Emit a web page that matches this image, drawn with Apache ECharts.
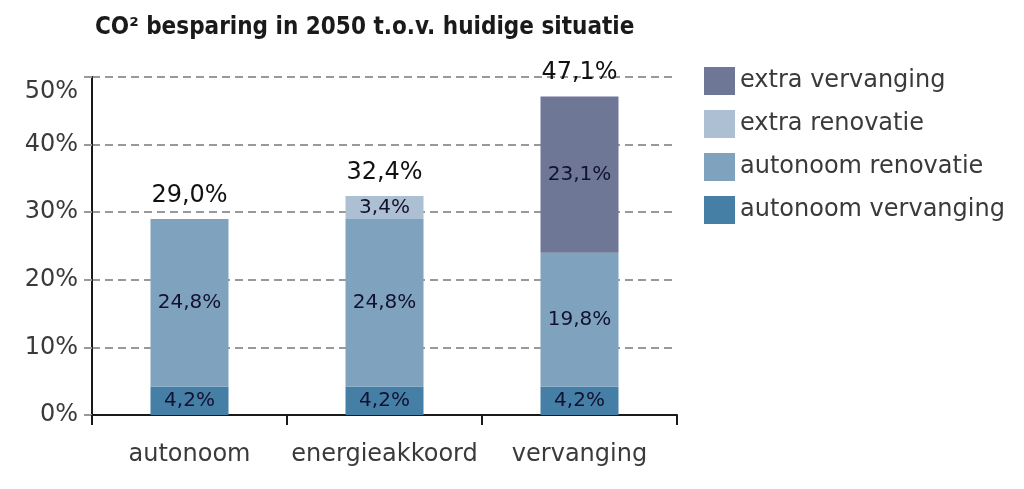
<!DOCTYPE html>
<html>
<head>
<meta charset="utf-8">
<script src="https://cdn.jsdelivr.net/npm/echarts@6/dist/echarts.min.js"></script>
<style>
html,body{margin:0;padding:0;background:#fff;}
#chart{width:1024px;height:489px;}
</style>
</head>
<body>
<div id="chart"></div>
<script>
var categories = ['autonoom', 'energieakkoord', 'vervanging'];
var autonoomVervanging = [4.2, 4.2, 4.2];
var autonoomRenovatie = [24.8, 24.8, 19.8];
var extraRenovatie = ['-', 3.4, '-'];
var extraVervanging = ['-', '-', 23.1];
var totals = [29.0, 32.4, 47.1];
var yTicks = [0, 10, 20, 30, 40, 50];

var FONT = '"DejaVu Sans", sans-serif';
function fmt(v) { return v.toFixed(1).replace('.', ',') + '%'; }

var segLabel = {
  show: true,
  position: 'inside',
  fontFamily: FONT,
  fontSize: 20,
  color: '#121230',
  formatter: function (p) { return fmt(p.value); }
};

var chart = echarts.init(document.getElementById('chart'), null, {renderer: 'canvas'});
chart.setOption({
  animation: false,
  backgroundColor: '#fff',
  title: {
    text: 'CO² besparing in 2050 t.o.v. huidige situatie',
    left: 90,
    top: 11,
    textStyle: {
      fontFamily: '"DejaVu Sans Condensed", "DejaVu Sans", sans-serif',
      fontWeight: 'bold',
      fontSize: 24,
      color: '#1a1a1a'
    }
  },
  legend: {
    orient: 'vertical',
    left: 699,
    top: 62,
    itemWidth: 31,
    itemHeight: 28,
    itemGap: 15,
    icon: 'rect',
    data: ['extra vervanging', 'extra renovatie', 'autonoom renovatie', 'autonoom vervanging'],
    textStyle: { fontFamily: FONT, fontSize: 24, color: '#3a3a3a', padding: [0, 0, 0, 0] }
  },
  grid: { left: 92, right: 347, top: 77, bottom: 74, containLabel: false },
  xAxis: {
    type: 'category',
    data: categories,
    axisLine: { show: true, lineStyle: { color: '#1a1a1a', width: 2 } },
    axisTick: { show: true, interval: 0, length: 10, lineStyle: { color: '#1a1a1a', width: 2 } },
    axisLabel: { interval: 0, fontFamily: FONT, fontSize: 24, color: '#3a3a3a', margin: 28 }
  },
  yAxis: {
    type: 'value',
    min: 0,
    max: 50,
    interval: 10,
    axisLine: { show: true, lineStyle: { color: '#1a1a1a', width: 2 } },
    axisTick: { show: true, length: 8, lineStyle: { color: '#999', width: 2 } },
    splitLine: { show: true, lineStyle: { color: '#999', width: 2, type: [8, 5] } },
    axisLabel: {
      fontFamily: FONT, fontSize: 24, color: '#3a3a3a', margin: 14,
      formatter: function (v) {
        return v === yTicks[yTicks.length - 1] ? '{top|' + v + '%}' : v + '%';
      },
      rich: { top: { fontFamily: FONT, fontSize: 24, color: '#3a3a3a', padding: [30, 0, 0, 0] } }
    }
  },
  series: [
    { name: 'autonoom vervanging', type: 'bar', stack: 'a', barWidth: 78, data: autonoomVervanging,
      itemStyle: { color: '#457fa5' }, label: segLabel },
    { name: 'autonoom renovatie', type: 'bar', stack: 'a', data: autonoomRenovatie,
      itemStyle: { color: '#7fa3bf' }, label: segLabel },
    { name: 'extra renovatie', type: 'bar', stack: 'a', data: extraRenovatie,
      itemStyle: { color: '#adc0d3' }, label: segLabel },
    { name: 'extra vervanging', type: 'bar', stack: 'a', data: extraVervanging,
      itemStyle: { color: '#6e7796' }, label: segLabel },
    { name: 'totaal', type: 'scatter', data: totals, symbolSize: 1, silent: true,
      itemStyle: { opacity: 1, color: 'rgba(0,0,0,0)' },
      label: { show: true, position: 'top', distance: 11, fontFamily: FONT, fontSize: 24, color: '#111111',
        formatter: function (p) { return fmt(p.value); } } }
  ]
});
</script>
</body>
</html>
